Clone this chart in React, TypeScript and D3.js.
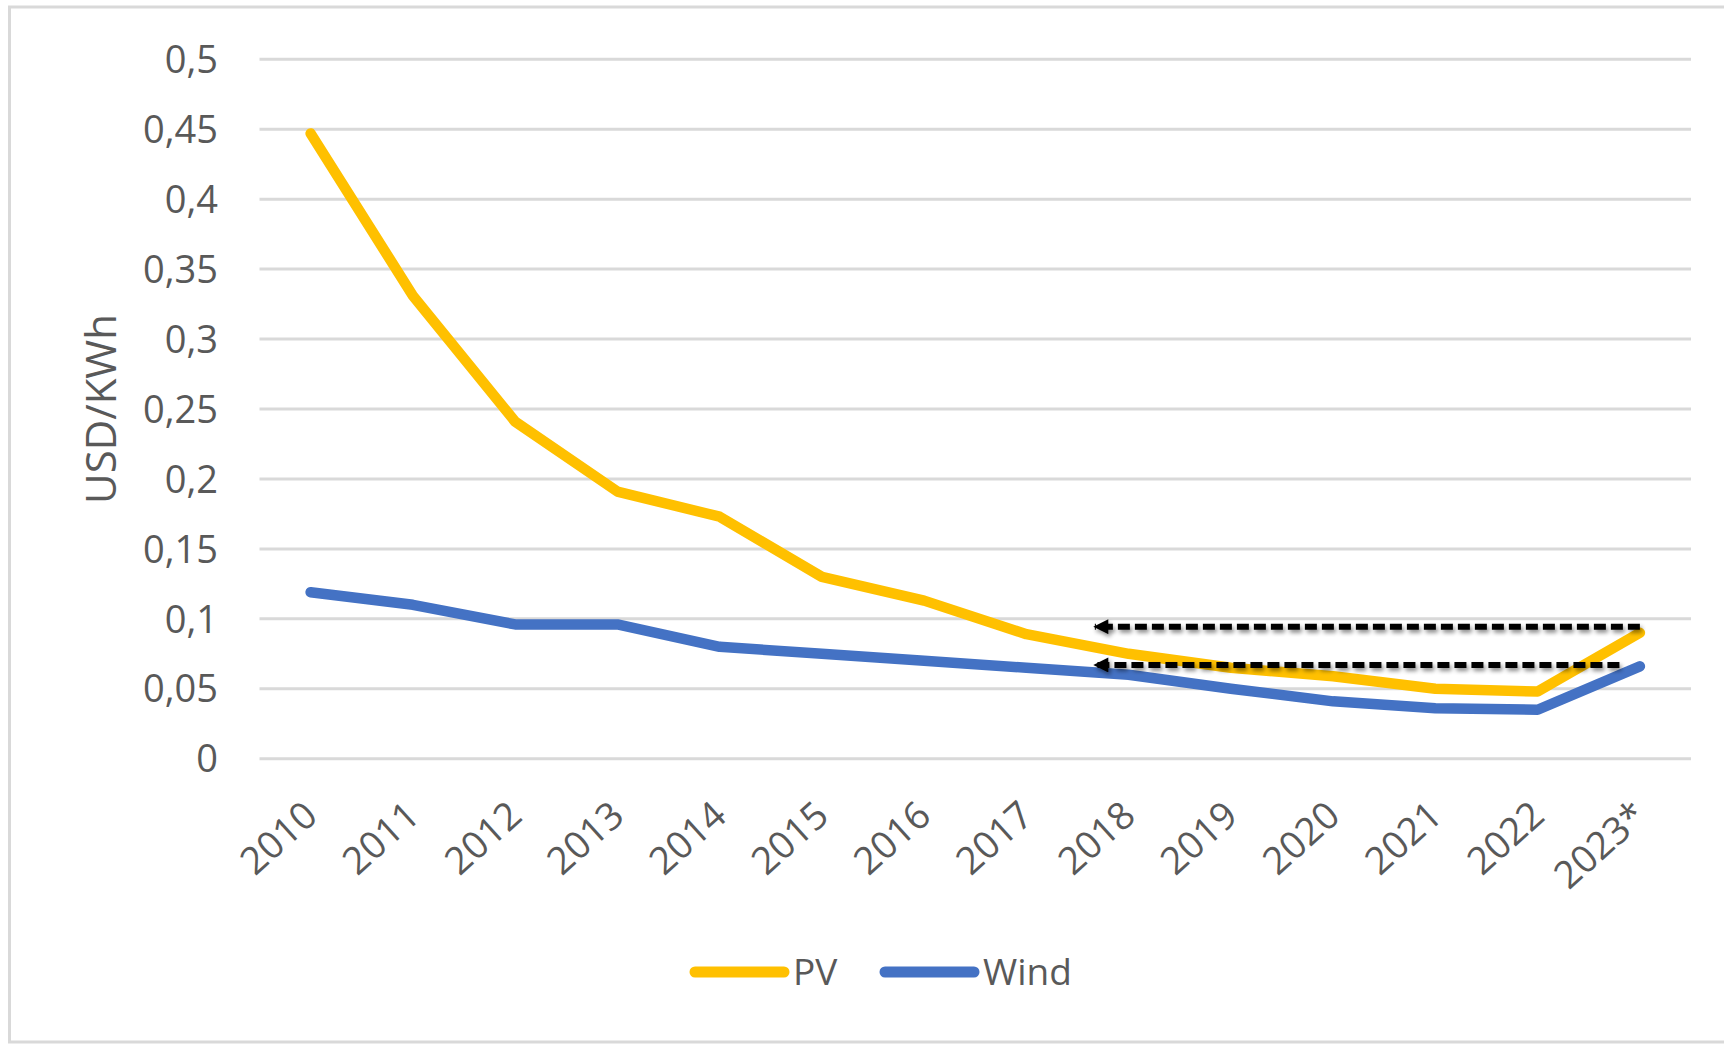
import React from "react";
import * as d3 from "d3";

const categories = ["2010","2011","2012","2013","2014","2015","2016","2017","2018","2019","2020","2021","2022","2023*"];
const pvValues = [0.447,0.331,0.241,0.191,0.173,0.130,0.113,0.089,0.075,0.065,0.059,0.050,0.048,0.090];
const windValues = [0.119,0.110,0.096,0.096,0.080,0.075,0.070,0.065,0.060,0.050,0.041,0.036,0.035,0.066];
const yTicks = [0,0.05,0.1,0.15,0.2,0.25,0.3,0.35,0.4,0.45,0.5];
const seriesNames = ["PV","Wind"];
const seriesColors = ["#FFC000","#4472C4"];
// annotation arrows: from category index to category index at a value
const arrows = [
  { from: 13, to: 7.65, value: 0.0944 },
  { from: 12.8, to: 7.65, value: 0.067 },
];

const W = 1724, H = 1044;
const M = { left: 259.5, right: 1691, top: 59.3, bottom: 758.7 };
const FONT = "'Open Sans', 'Noto Sans', sans-serif";
const TXT = "#595959";

export default function App() {
  const x = d3.scaleBand<string>().domain(categories).range([M.left, M.right]).padding(0);
  const y = d3.scaleLinear().domain([0, 0.5]).range([M.bottom, M.top]);
  const cx = (c: string) => (x(c) as number) + x.bandwidth() / 2;
  const xi = (i: number) => (x(categories[0]) as number) + x.bandwidth() / 2 + i * x.step();
  const line = d3.line<number>().x((_, i) => cx(categories[i])).y((d) => y(d));
  const series = [pvValues, windValues];

  return (
    <svg width={W} height={H} style={{ position: "absolute", left: 0, top: 0, background: "#fff" }}>
      <defs>
        <marker id="ah" viewBox="0 0 10 10" refX="9" refY="5" markerWidth="2.6" markerHeight="2.5" orient="auto" markerUnits="strokeWidth">
          <path d="M0,0 L10,5 L0,10 z" fill="#000" />
        </marker>
        <filter id="sh" filterUnits="userSpaceOnUse" x={0} y={0} width={W} height={H}>
          <feGaussianBlur in="SourceAlpha" stdDeviation="2" />
          <feOffset dx="2" dy="3" result="b" />
          <feComponentTransfer><feFuncA type="linear" slope="0.45" /></feComponentTransfer>
          <feMerge><feMergeNode /><feMergeNode in="SourceGraphic" /></feMerge>
        </filter>
      </defs>
      <rect x={0} y={0} width={W} height={H} fill="#fff" />
      {/* frame */}
      <path d={`M${W + 5},7 L9.5,7 L9.5,1042 L${W + 5},1042`} fill="none" stroke="#D9D9D9" strokeWidth={3} />
      {/* gridlines */}
      {yTicks.map((t) => (
        <line key={t} x1={M.left} x2={M.right} y1={y(t)} y2={y(t)} stroke="#D9D9D9" strokeWidth={3} />
      ))}
      {/* y tick labels */}
      {yTicks.map((t) => (
        <text key={"l" + t} x={218} y={y(t)} dy="0.36em" textAnchor="end" fontFamily={FONT} fontSize={38} fill={TXT}>
          {String(t).replace(".", ",")}
        </text>
      ))}
      {/* y title */}
      <text transform={`translate(116,${(M.top + M.bottom) / 2}) rotate(-90)`} textAnchor="middle" fontFamily={FONT} fontSize={42} fill={TXT}>
        USD/KWh
      </text>
      {/* x labels */}
      {categories.map((c) => (
        <text key={c} transform={`translate(${cx(c) + 9},${M.bottom + 60}) rotate(-42)`} textAnchor="end" fontFamily={FONT} fontSize={38} fill={TXT}>
          {c}
        </text>
      ))}
      {/* lines */}
      {series.map((s, k) => (
        <path key={k} d={line(s) as string} fill="none" stroke={seriesColors[k]} strokeWidth={10.5} strokeLinejoin="round" strokeLinecap="round" />
      ))}
      {/* arrows */}
      {arrows.map((a, i) => (
        <line key={i} x1={xi(a.from)} x2={xi(a.to) + 2} y1={y(a.value)} y2={y(a.value)} stroke="#000" strokeWidth={6} strokeDasharray="12 5" markerEnd="url(#ah)" filter="url(#sh)" />
      ))}
      {/* legend */}
      {seriesNames.map((n, k) => {
        const lx = [690, 880][k];
        return (
          <g key={n}>
            <line x1={lx + 5} x2={lx + 94} y1={972} y2={972} stroke={seriesColors[k]} strokeWidth={11} strokeLinecap="round" />
            <text x={lx + 103} y={972} dy="0.36em" fontFamily={FONT} fontSize={37} fill={TXT}>{n}</text>
          </g>
        );
      })}
    </svg>
  );
}
